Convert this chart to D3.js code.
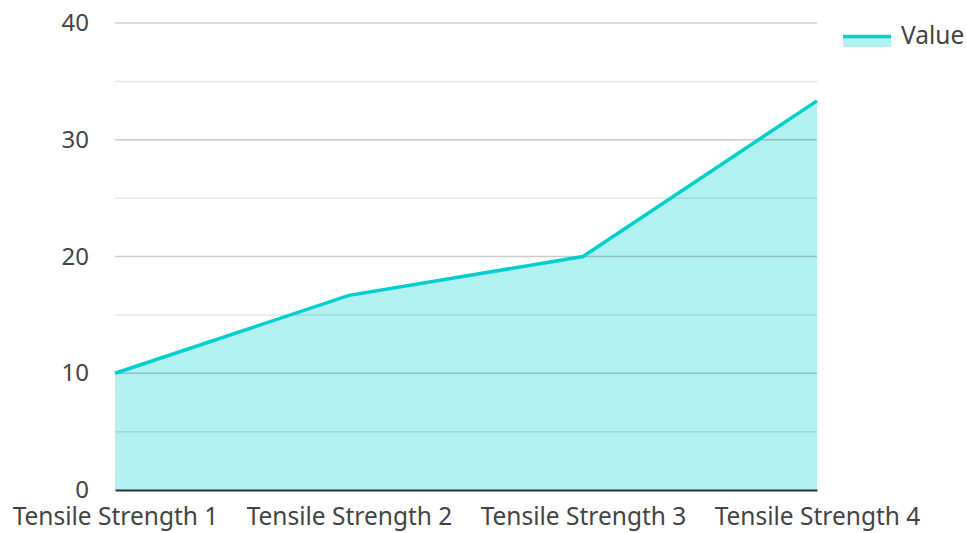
<!DOCTYPE html>
<html>
<head>
<meta charset="utf-8">
<script src="https://cdn.jsdelivr.net/npm/d3@7"></script>
<style>
  body { margin: 0; background: #fff; }
  text { font-family: "Noto Sans", "Open Sans", sans-serif; fill: #444; }
</style>
</head>
<body>
<div id="chart"></div>
<script>
// chart data
const categories = ["Tensile Strength 1", "Tensile Strength 2", "Tensile Strength 3", "Tensile Strength 4"];
const values = [10, 16.67, 20, 33.33];
const yTicks = [0, 10, 20, 30, 40];
const yMinorTicks = [5, 15, 25, 35];
const seriesName = "Value";

const width = 967, height = 533;
const margin = {top: 23, right: 150, bottom: 43, left: 115};
const innerW = width - margin.left - margin.right;
const innerH = height - margin.top - margin.bottom;

const svg = d3.select("#chart").append("svg")
    .attr("width", width)
    .attr("height", height);

const g = svg.append("g")
    .attr("transform", "translate(" + margin.left + "," + margin.top + ")");

const x = d3.scalePoint()
    .domain(categories)
    .range([0, innerW]);

const y = d3.scaleLinear()
    .domain([0, 40])
    .range([innerH, 0]);

const data = categories.map((c, i) => ({cat: c, v: values[i]}));

const lineColor = "#00cfcf";

// area
g.append("path")
    .datum(data)
    .attr("fill", lineColor)
    .attr("fill-opacity", 0.3)
    .attr("d", d3.area()
        .x(d => x(d.cat))
        .y0(y(0))
        .y1(d => y(d.v)));

// gridlines over the area
g.selectAll(".minor")
    .data(yMinorTicks)
    .enter().append("line")
    .attr("x1", 0).attr("x2", innerW)
    .attr("y1", d => y(d)).attr("y2", d => y(d))
    .attr("stroke", "rgba(0,0,0,0.1)")
    .attr("stroke-width", 1.5);

g.selectAll(".major")
    .data(yTicks.filter(d => d > 0))
    .enter().append("line")
    .attr("x1", 0).attr("x2", innerW)
    .attr("y1", d => y(d)).attr("y2", d => y(d))
    .attr("stroke", "rgba(0,0,0,0.2)")
    .attr("stroke-width", 1.5);

// line
g.append("path")
    .datum(data)
    .attr("fill", "none")
    .attr("stroke", lineColor)
    .attr("stroke-width", 3.5)
    .attr("d", d3.line()
        .x(d => x(d.cat))
        .y(d => y(d.v)));

// y axis
const yAxis = g.append("g")
    .call(d3.axisLeft(y).tickValues(yTicks).tickSize(0).tickPadding(26));
yAxis.select(".domain").remove();
yAxis.selectAll("text").attr("font-size", "24px").attr("fill", "#444");

// x axis
const xAxis = g.append("g")
    .attr("transform", "translate(0," + innerH + ")")
    .call(d3.axisBottom(x).tickSize(0).tickPadding(18));
xAxis.select(".domain").attr("stroke", "#333").attr("stroke-width", 2);
xAxis.selectAll("text").attr("font-size", "24.5px").attr("fill", "#444");

// legend
const legend = svg.append("g")
    .attr("transform", "translate(843,35)");
legend.append("rect")
    .attr("x", 0).attr("y", 0)
    .attr("width", 48).attr("height", 12)
    .attr("fill", lineColor)
    .attr("fill-opacity", 0.3);
legend.append("line")
    .attr("x1", 0).attr("x2", 48)
    .attr("y1", 1.5).attr("y2", 1.5)
    .attr("stroke", lineColor)
    .attr("stroke-width", 3.5);
legend.append("text")
    .attr("x", 58).attr("y", 9)
    .attr("font-size", "24.5px")
    .attr("fill", "#444")
    .text(seriesName);
</script>
</body>
</html>
